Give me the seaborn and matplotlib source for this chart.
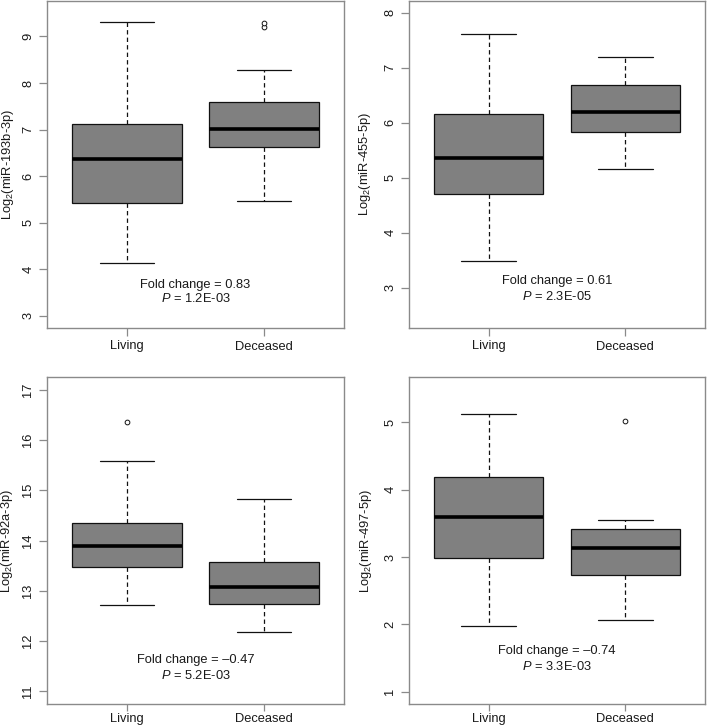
import numpy as np
import pandas as pd
import matplotlib
matplotlib.use("Agg")
import matplotlib.pyplot as plt
import seaborn as sns

# ---------------- data ----------------
categories = ["Living", "Deceased"]

# five-number summaries: [min whisker, Q1, median, Q3, max whisker]
mir193b_living = [4.13, 5.42, 6.36, 7.11, 9.31]
mir193b_deceased = [5.47, 6.62, 7.01, 7.60, 8.27]
mir193b_living_out = []
mir193b_deceased_out = [9.20, 9.28]

mir455_living = [3.49, 4.71, 5.35, 6.15, 7.61]
mir455_deceased = [5.15, 5.84, 6.19, 6.69, 7.19]
mir455_living_out = []
mir455_deceased_out = []

mir92a_living = [12.71, 13.47, 13.89, 14.34, 15.59]
mir92a_deceased = [12.19, 12.73, 13.08, 13.58, 14.82]
mir92a_living_out = [16.36]
mir92a_deceased_out = []

mir497_living = [1.98, 2.99, 3.59, 4.18, 5.12]
mir497_deceased = [2.07, 2.73, 3.14, 3.41, 3.55]
mir497_living_out = []
mir497_deceased_out = [5.01]

labels = ["miR-193b-3p", "miR-455-5p", "miR-92a-3p", "miR-497-5p"]
fold_changes = ["0.83", "0.61", "\u20130.47", "\u20130.74"]
p_values = ["1.2E-03", "2.3E-05", "5.2E-03", "3.3E-03"]
y_ticks = [list(range(3, 10)), list(range(3, 9)), list(range(11, 18)), list(range(1, 6))]
y_limits = [(2.74, 9.77), (2.27, 8.22), (10.75, 17.25), (0.82, 5.67)]
text_y = [(3.66, 3.37), (3.12, 2.85), (11.62, 11.32), (1.60, 1.38)]

panels = [
    (mir193b_living, mir193b_deceased, mir193b_living_out, mir193b_deceased_out),
    (mir455_living, mir455_deceased, mir455_living_out, mir455_deceased_out),
    (mir92a_living, mir92a_deceased, mir92a_living_out, mir92a_deceased_out),
    (mir497_living, mir497_deceased, mir497_living_out, mir497_deceased_out),
]

# ---------------- style ----------------
sns.set_style("white")
plt.rcParams["font.family"] = ["Liberation Sans", "DejaVu Sans"]
plt.rcParams["mathtext.fontset"] = "custom"
plt.rcParams["mathtext.rm"] = "Liberation Sans"
plt.rcParams["mathtext.it"] = "Liberation Sans:italic"
plt.rcParams["mathtext.bf"] = "Liberation Sans:bold"

W, H = 709, 726
fig = plt.figure(figsize=(W / 100, H / 100), dpi=100)

# axes rectangles in pixels: (left, top, right, bottom)
rects = [(47, 0.5, 344, 328), (409, 0.5, 705, 328),
         (47, 377, 344, 704), (409, 377, 705, 704)]
label_x = [-0.104, -0.122, -0.108, -0.118]
xtick_len = [6, 6, 5, 5]
xtick_pad = [3, 3, 1.2, 1.2]

FS = 9.3
frame_col = "#8a8a8a"
text_col = "#1a1a1a"

for i, (rect, data) in enumerate(zip(rects, panels)):
    l, t, r, b = rect
    ax = fig.add_axes([l / W, (H - b) / H, (r - l) / W, (b - t) / H])
    liv, dec, liv_out, dec_out = data
    df = pd.DataFrame({
        "group": [categories[0]] * len(liv) + [categories[1]] * len(dec),
        "value": liv + dec,
    })
    sns.boxplot(data=df, x="group", y="value", order=categories, ax=ax,
                color="#808080", saturation=1, width=0.8, whis=(0, 100),
                showfliers=False, linecolor="#111111", linewidth=0.9,
                medianprops={"linewidth": 2.6, "color": "black",
                             "solid_capstyle": "butt"},
                whiskerprops={"linestyle": (0, (3.5, 2.5))})
    out_df = pd.DataFrame({
        "group": [categories[0]] * len(liv_out) + [categories[1]] * len(dec_out),
        "value": liv_out + dec_out,
    })
    if len(out_df):
        sns.stripplot(data=out_df, x="group", y="value", order=categories,
                      ax=ax, jitter=False, color="white", edgecolor="#111111",
                      linewidth=0.7, size=3.4, zorder=5)

    ax.set_xlim(-0.584, 1.584)
    ax.set_ylim(*y_limits[i])
    ax.set_yticks(y_ticks[i])
    ax.set_yticklabels([str(v) for v in y_ticks[i]], rotation=90, va="center")
    ax.set_xlabel("")
    ax.set_ylabel(f"Log$_2$({labels[i]})", fontsize=FS, color=text_col)
    ax.yaxis.set_label_coords(label_x[i], 0.5)
    ax.tick_params(axis="y", which="major", length=6, width=0.9,
                   color=frame_col, labelsize=FS, labelcolor=text_col,
                   direction="out", pad=3, left=True)
    ax.tick_params(axis="x", which="major", length=xtick_len[i], width=0.9,
                   color=frame_col, labelsize=FS, labelcolor=text_col,
                   direction="out", pad=xtick_pad[i], bottom=True)
    for s in ax.spines.values():
        s.set_color(frame_col)
        s.set_linewidth(1.0)
        s.set_visible(True)

    ax.text(0.5, text_y[i][0], f"Fold change = {fold_changes[i]}",
            ha="center", va="center", fontsize=FS, color=text_col)
    ax.text(0.5, text_y[i][1], f"$\\mathit{{P}}$ = {p_values[i]}",
            ha="center", va="center", fontsize=FS, color=text_col)

fig.savefig("out.png", dpi=100)
